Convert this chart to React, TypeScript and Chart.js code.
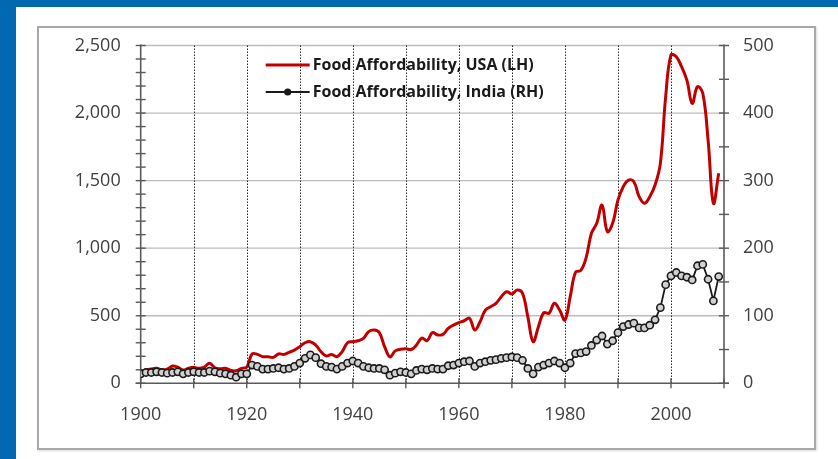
import { useEffect, useRef } from 'react';
import { Chart, registerables } from 'chart.js';

Chart.register(...registerables);

const years = Array.from({ length: 110 }, (_, i) => 1900 + i);

const usaValues = [
  86, 98, 106, 111, 98, 104, 128, 120, 98, 111,
  118, 111, 120, 148, 115, 108, 111, 95, 93, 111,
  120, 217, 214, 197, 197, 192, 217, 214, 229, 246,
  271, 300, 308, 283, 234, 202, 214, 197, 234, 300,
  308, 315, 333, 382, 394, 375, 271, 195, 240, 252,
  256, 250, 283, 335, 315, 375, 358, 362, 407, 431,
  449, 463, 481, 394, 456, 542, 567, 592, 641, 678,
  661, 690, 666, 493, 308, 419, 522, 518, 592, 542,
  468, 641, 822, 835, 930, 1110, 1184, 1319, 1122, 1184,
  1356, 1455, 1504, 1492, 1381, 1332, 1381, 1467, 1628, 2121,
  2430, 2417, 2343, 2244, 2072, 2195, 2146, 1800, 1332, 1554,
];

const indiaValues = [
  14, 16, 16, 17, 16, 15, 16, 17, 14, 16,
  17, 16, 16, 18, 17, 15, 14, 12, 9, 14,
  14, 27, 25, 21, 21, 22, 23, 21, 22, 25,
  30, 37, 42, 38, 29, 25, 24, 21, 25, 30,
  33, 30, 25, 23, 22, 22, 20, 12, 15, 17,
  16, 14, 19, 21, 20, 22, 21, 21, 26, 27,
  30, 32, 33, 25, 30, 32, 34, 35, 37, 38,
  39, 38, 34, 22, 14, 24, 27, 30, 33, 30,
  23, 30, 44, 45, 47, 56, 64, 70, 58, 63,
  75, 84, 87, 89, 82, 82, 86, 94, 112, 146,
  159, 164, 159, 157, 153, 174, 176, 154, 122, 158,
];

const seriesLabels = ['Food Affordability, USA (LH)', 'Food Affordability, India (RH)'];
const xLabelYears = [1900, 1920, 1940, 1960, 1980, 2000];
const leftLabelValues = [0, 500, 1000, 1500, 2000, 2500];
const rightLabelValues = [0, 100, 200, 300, 400, 500];

const FONT = "'Open Sans', 'DejaVu Sans', sans-serif";

const gridPlugin = {
  id: 'customGrid',
  beforeDatasetsDraw(chart: any) {
    const { ctx, chartArea: a, scales } = chart;
    const xs = scales.x;
    const yl = scales.y;
    const yr = scales.y1;
    const line = (x1: number, y1: number, x2: number, y2: number) => {
      ctx.beginPath();
      ctx.moveTo(x1, y1);
      ctx.lineTo(x2, y2);
      ctx.stroke();
    };
    ctx.save();
    ctx.strokeStyle = '#bcbcbc';
    ctx.lineWidth = 1.3;
    yl.ticks.forEach((t: any) => {
      if (leftLabelValues.includes(t.value) && t.value > 0) {
        const py = yl.getPixelForValue(t.value);
        line(a.left, py, a.right, py);
      }
    });
    ctx.strokeStyle = '#2a2a2a';
    ctx.lineWidth = 1;
    ctx.setLineDash([1.5, 1.5]);
    xs.ticks.forEach((t: any) => {
      if (t.value > xs.min && t.value < xs.max) {
        const px = Math.round(xs.getPixelForValue(t.value)) + 0.5;
        line(px, a.top, px, a.bottom);
      }
    });
    ctx.setLineDash([]);
    ctx.strokeStyle = '#5a5a5a';
    ctx.lineWidth = 1.6;
    line(a.left, a.top - 1, a.left, a.bottom);
    line(a.right, a.top - 1, a.right, a.bottom);
    line(a.left - 5, a.bottom, a.right + 5, a.bottom);
    ctx.lineWidth = 1.4;
    yl.ticks.forEach((t: any) => {
      const py = yl.getPixelForValue(t.value);
      line(a.left - 5, py, a.left + 5, py);
    });
    yr.ticks.forEach((t: any) => {
      const py = yr.getPixelForValue(t.value);
      line(a.right - 5, py, a.right + 5, py);
    });
    xs.ticks.forEach((t: any) => {
      const px = xs.getPixelForValue(t.value);
      line(px, a.bottom - 5, px, a.bottom + 5);
    });
    ctx.restore();
  },
};

const legendPlugin = {
  id: 'customLegend',
  afterDatasetsDraw(chart: any) {
    const { ctx, chartArea: a } = chart;
    const x0 = a.left + 125;
    const y0 = a.top + 19.5;
    const rowGap = 27;
    ctx.save();
    chart.data.datasets.forEach((ds: any, i: number) => {
      const y = y0 + i * rowGap;
      ctx.strokeStyle = ds.borderColor;
      ctx.lineWidth = ds.borderWidth;
      ctx.beginPath();
      ctx.moveTo(x0, y);
      ctx.lineTo(x0 + 44, y);
      ctx.stroke();
      if (ds.pointRadius > 0) {
        ctx.beginPath();
        ctx.arc(x0 + 22, y, ds.pointRadius, 0, Math.PI * 2);
        ctx.fillStyle = ds.pointBorderColor;
        ctx.fill();
      }
      ctx.fillStyle = '#1a1a1a';
      ctx.font = `700 16px ${FONT}`;
      ctx.textBaseline = 'middle';
      ctx.textAlign = 'left';
      ctx.fillText(ds.label, x0 + 47, y);
    });
    ctx.restore();
  },
};

export default function App() {
  const canvasRef = useRef<HTMLCanvasElement | null>(null);

  useEffect(() => {
    if (!canvasRef.current) return;
    const chart = new Chart(canvasRef.current, {
      type: 'line',
      data: {
        datasets: [
          {
            label: seriesLabels[0],
            data: years.map((yr, i) => ({ x: yr, y: usaValues[i] })),
            yAxisID: 'y',
            borderColor: '#c00000',
            borderWidth: 3,
            pointRadius: 0,
            tension: 0.4,
            order: 2,
          },
          {
            label: seriesLabels[1],
            data: years.map((yr, i) => ({ x: yr, y: indiaValues[i] })),
            yAxisID: 'y1',
            borderColor: '#1a1a1a',
            borderWidth: 1.8,
            pointRadius: 3.6,
            pointBorderWidth: 1.6,
            pointBorderColor: '#1a1a1a',
            pointBackgroundColor: '#d0d0d0',
            tension: 0,
            order: 1,
          },
        ],
      },
      options: {
        animation: false,
        responsive: false,
        layout: { padding: { top: 17.5, left: 0, right: 0, bottom: 0 } },
        plugins: {
          legend: { display: false },
          tooltip: { enabled: false },
        },
        scales: {
          x: {
            type: 'linear',
            min: 1900,
            max: 2010,
            grid: { display: false, drawTicks: false },
            border: { display: false },
            ticks: {
              stepSize: 10,
              autoSkip: false,
              maxRotation: 0,
              padding: 21,
              color: '#404040',
              font: { family: FONT, size: 18 },
              callback: (v: any) => (xLabelYears.includes(Number(v)) ? String(v) : ''),
            },
            afterFit: (s: any) => {
              s.height = 64.7;
              s.paddingLeft = 0;
              s.paddingRight = 0;
            },
          },
          y: {
            type: 'linear',
            position: 'left',
            min: 0,
            max: 2500,
            grid: { display: false, drawTicks: false },
            border: { display: false },
            ticks: {
              stepSize: 100,
              autoSkip: false,
              padding: 20,
              color: '#404040',
              font: { family: FONT, size: 18 },
              callback: (v: any) =>
                leftLabelValues.includes(Number(v)) ? Number(v).toLocaleString('en-US') : '',
            },
            afterFit: (s: any) => {
              s.width = 101.7;
              s.paddingTop = 0;
              s.paddingBottom = 0;
            },
          },
          y1: {
            type: 'linear',
            position: 'right',
            min: 0,
            max: 500,
            grid: { display: false, drawTicks: false },
            border: { display: false },
            ticks: {
              stepSize: 50,
              autoSkip: false,
              padding: 19,
              color: '#404040',
              font: { family: FONT, size: 18 },
              callback: (v: any) => (rightLabelValues.includes(Number(v)) ? String(v) : ''),
            },
            afterFit: (s: any) => {
              s.width = 90;
              s.paddingTop = 0;
              s.paddingBottom = 0;
            },
          },
        },
      },
      plugins: [gridPlugin, legendPlugin],
    });
    return () => chart.destroy();
  }, []);

  return (
    <div style={{ position: 'fixed', left: 0, top: 0, width: 838, height: 459, background: '#0268b1', overflow: 'hidden' }}>
      <div style={{ position: 'absolute', left: 16, top: 7, right: 0, bottom: 0, background: '#ffffff' }} />
      <div
        style={{
          position: 'absolute',
          left: 37,
          top: 26,
          width: 779,
          height: 424,
          border: '2px solid #a8a8a8',
          boxSizing: 'border-box',
          background: '#ffffff',
          boxShadow: '1px 1px 2px rgba(0,0,0,0.15)',
        }}
      >
        <canvas ref={canvasRef} width={775} height={420} style={{ display: 'block', width: 775, height: 420 }} />
      </div>
    </div>
  );
}
